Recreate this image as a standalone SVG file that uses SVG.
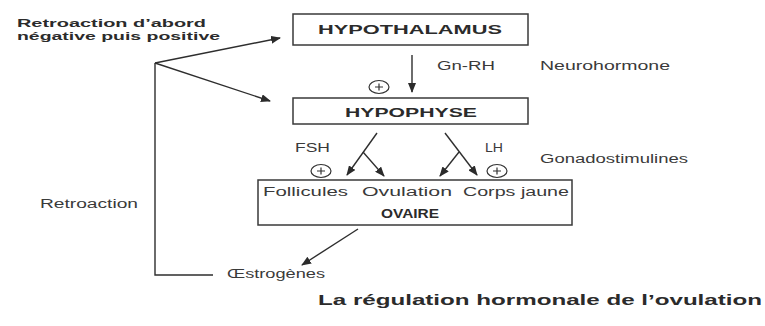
<svg xmlns="http://www.w3.org/2000/svg" width="765" height="326" viewBox="0 0 765 326">
<style>
text{font-family:"Liberation Sans","DejaVu Sans",Arial,sans-serif;fill:#2b2b2b}
.n{font-size:12px;fill:#3a3a3a}
.b{font-weight:bold;font-size:13px}
.t{font-weight:bold;font-size:11px}
.h{font-weight:bold;font-size:15px}
.box{fill:#fff;stroke:#3a3a3a;stroke-width:1.5}
.ln{fill:none;stroke:#2e2e2e;stroke-width:1.4}
.pl{fill:#fff;stroke:#333;stroke-width:1.2}
</style>
<defs>
<marker id="ah" markerWidth="10" markerHeight="8" refX="9" refY="4" orient="auto" markerUnits="userSpaceOnUse">
<path d="M0,0 L10,4 L0,8 Z" fill="#2b2b2b"/>
</marker>
</defs>
<rect width="765" height="326" fill="#fff"/>

<g id="hypothalamus">
<rect class="box" x="293" y="14" width="235" height="31"/>
<text class="b" x="318" y="34" textLength="184" lengthAdjust="spacingAndGlyphs">HYPOTHALAMUS</text>
</g>
<g id="hypophyse">
<rect class="box" x="293" y="98" width="235" height="26"/>
<text class="b" x="345" y="117" textLength="132" lengthAdjust="spacingAndGlyphs">HYPOPHYSE</text>
</g>
<g id="ovaire">
<rect class="box" x="258" y="180" width="314" height="45"/>
<text class="n" x="263" y="196" textLength="85" lengthAdjust="spacingAndGlyphs">Follicules</text>
<text class="n" x="362" y="196" textLength="90" lengthAdjust="spacingAndGlyphs">Ovulation</text>
<text class="n" x="463" y="196" textLength="106" lengthAdjust="spacingAndGlyphs">Corps jaune</text>
<text class="b" x="381" y="218" textLength="58" lengthAdjust="spacingAndGlyphs">OVAIRE</text>
</g>
<g id="oestrogenes">
<text class="n" x="227" y="278" textLength="98" lengthAdjust="spacingAndGlyphs">Œstrogènes</text>
</g>

<g id="labels">
<text class="t" x="17" y="26.5" textLength="189" lengthAdjust="spacingAndGlyphs">Retroaction d’abord</text>
<text class="t" x="17" y="39.5" textLength="203" lengthAdjust="spacingAndGlyphs">négative puis positive</text>
<text class="n" x="40" y="208" textLength="98" lengthAdjust="spacingAndGlyphs">Retroaction</text>
<text class="n" x="437" y="70" textLength="58" lengthAdjust="spacingAndGlyphs">Gn-RH</text>
<text class="n" x="540" y="70" textLength="130" lengthAdjust="spacingAndGlyphs">Neurohormone</text>
<text class="n" x="295" y="152" textLength="35" lengthAdjust="spacingAndGlyphs">FSH</text>
<text class="n" x="485" y="152" textLength="18" lengthAdjust="spacingAndGlyphs">LH</text>
<text class="n" x="540" y="163" textLength="148" lengthAdjust="spacingAndGlyphs">Gonadostimulines</text>
<text class="h" x="318" y="305" textLength="444" lengthAdjust="spacingAndGlyphs">La régulation hormonale de l’ovulation</text>
</g>

<g id="plus-signs">
<ellipse class="pl" cx="379" cy="87" rx="10" ry="6.5"/>
<path d="M375,87 H383 M379,83.5 V90.5" stroke="#333" stroke-width="1.2"/>
<ellipse class="pl" cx="321" cy="171" rx="10" ry="6.5"/>
<path d="M317,171 H325 M321,167.5 V174.5" stroke="#333" stroke-width="1.2"/>
<ellipse class="pl" cx="497" cy="171" rx="10" ry="6.5"/>
<path d="M493,171 H501 M497,167.5 V174.5" stroke="#333" stroke-width="1.2"/>
</g>

<g id="connectors">
<line class="ln" x1="412" y1="55" x2="412" y2="92" marker-end="url(#ah)"/>
<line class="ln" x1="377" y1="133" x2="347" y2="175" marker-end="url(#ah)"/>
<line class="ln" x1="363" y1="152" x2="384" y2="176" marker-end="url(#ah)"/>
<line class="ln" x1="445" y1="133" x2="477" y2="175" marker-end="url(#ah)"/>
<line class="ln" x1="459" y1="152" x2="440" y2="176" marker-end="url(#ah)"/>
<line class="ln" x1="358" y1="229" x2="302" y2="265" marker-end="url(#ah)"/>
<polyline class="ln" points="213,275 155,275 155,63"/>
<line class="ln" x1="155" y1="63" x2="280" y2="38" marker-end="url(#ah)"/>
<line class="ln" x1="155" y1="63" x2="270" y2="101" marker-end="url(#ah)"/>
</g>
</svg>
